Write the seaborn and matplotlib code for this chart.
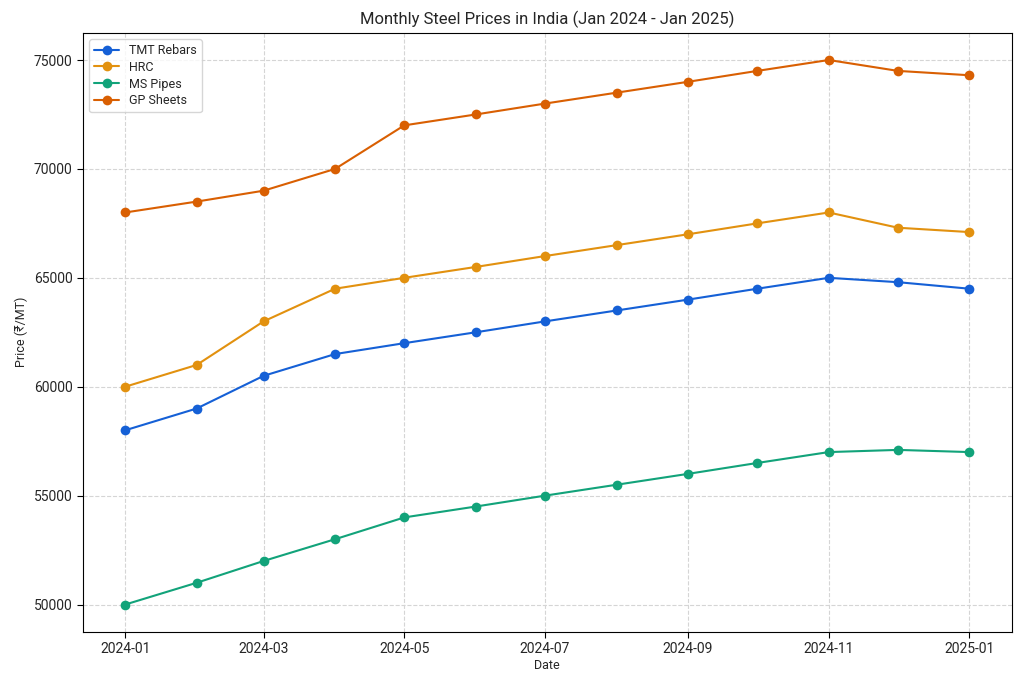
import matplotlib
matplotlib.use('Agg')
import matplotlib.pyplot as plt
import seaborn as sns
import pandas as pd

# Date lunare
dates = pd.date_range('2024-01-01', '2025-01-01', freq='MS')
tmt_rebars = [58000, 59000, 60500, 61500, 62000, 62500, 63000, 63500, 64000, 64500, 65000, 64800, 64500]
hrc = [60000, 61000, 63000, 64500, 65000, 65500, 66000, 66500, 67000, 67500, 68000, 67300, 67100]
ms_pipes = [50000, 51000, 52000, 53000, 54000, 54500, 55000, 55500, 56000, 56500, 57000, 57100, 57000]
gp_sheets = [68000, 68500, 69000, 70000, 72000, 72500, 73000, 73500, 74000, 74500, 75000, 74500, 74300]

series = {'TMT Rebars': tmt_rebars, 'HRC': hrc, 'MS Pipes': ms_pipes, 'GP Sheets': gp_sheets}
colors = {'TMT Rebars': '#1560d6', 'HRC': '#e2910f', 'MS Pipes': '#12a37a', 'GP Sheets': '#d95f02'}

df = pd.DataFrame({'Date': list(dates) * 4,
                   'Price': tmt_rebars + hrc + ms_pipes + gp_sheets,
                   'Product': [p for p in series for _ in dates]})

sns.set_style('whitegrid')
plt.rcParams['font.family'] = ['Roboto', 'DejaVu Sans']

fig, ax = plt.subplots(figsize=(10.24, 6.83), dpi=100)
sns.lineplot(data=df, x='Date', y='Price', hue='Product', palette=colors,
             marker='o', markersize=7, markeredgewidth=0, linewidth=1.5, ax=ax)

ax.set_title('Monthly Steel Prices in India (Jan 2024 - Jan 2025)', fontsize=12)
ax.set_xlabel('Date', fontsize=9, labelpad=2)
ax.set_ylabel('Price (₹/MT)', fontsize=9)
ax.tick_params(axis='both', labelsize=10, length=4, color='black', left=True, bottom=True)
ax.grid(True, linestyle='--', color='#d5d5d5', linewidth=0.8)
for s in ax.spines.values():
    s.set_color('black')
    s.set_linewidth(0.8)
ax.legend(loc='upper left', fontsize=9, title=None, labelspacing=0.3)
ax.set_xticks(pd.to_datetime(['2024-01-01', '2024-03-01', '2024-05-01', '2024-07-01',
                              '2024-09-01', '2024-11-01', '2025-01-01']))
ax.set_xticklabels(['2024-01', '2024-03', '2024-05', '2024-07', '2024-09', '2024-11', '2025-01'])

plt.subplots_adjust(left=0.081, right=0.988, top=0.952, bottom=0.075)
plt.savefig('out.png', dpi=100)
